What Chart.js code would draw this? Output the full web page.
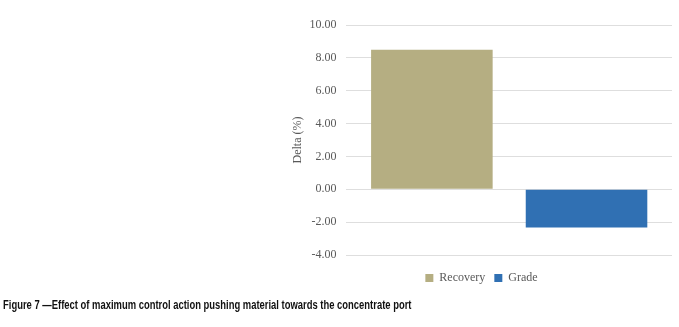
<!DOCTYPE html>
<html>
<head>
<meta charset="utf-8">
<script src="https://cdn.jsdelivr.net/npm/chart.js@4"></script>
<style>
  body { margin: 0; background: #fff; width: 679px; height: 327px; position: relative; overflow: hidden; }
  #wrap { position: absolute; left: 291px; top: 0; width: 387px; height: 300px; }
  #caption { position: absolute; left: 3px; top: 297px; font-family: "Liberation Sans", Arial, sans-serif;
    font-weight: bold; font-size: 13px; color: #111; transform: scaleX(0.725); transform-origin: left top; white-space: nowrap; }
</style>
</head>
<body>
<div id="wrap"><canvas id="deltaChart"></canvas></div>
<div id="caption">Figure 7 —Effect of maximum control action pushing material towards the concentrate port</div>
<script>
// Данные графика
const categories = [''];
const seriesNames = ['Recovery', 'Grade'];
const recoveryValues = [8.5];
const gradeValues = [-2.32];
const yTicks = [-4, -2, 0, 2, 4, 6, 8, 10];

const ctx = document.getElementById('deltaChart').getContext('2d');

const deltaChart = new Chart(ctx, {
    type: 'bar',
    data: {
        labels: categories,
        datasets: [
            {
                label: seriesNames[0],
                data: recoveryValues,
                backgroundColor: '#b5ae82',
                categoryPercentage: 0.95,
                barPercentage: 0.786
            },
            {
                label: seriesNames[1],
                data: gradeValues,
                backgroundColor: '#3070b3',
                categoryPercentage: 0.95,
                barPercentage: 0.786
            }
        ]
    },
    options: {
        responsive: true,
        maintainAspectRatio: false,
        animation: false,
        layout: { padding: { top: 25, right: 6, left: 0, bottom: 6 } },
        plugins: {
            legend: {
                position: 'bottom',
                labels: {
                    boxWidth: 8,
                    boxHeight: 8,
                    padding: 9,
                    color: '#595959',
                    font: { family: 'Liberation Serif', size: 12 }
                }
            },
            tooltip: { enabled: false }
        },
        scales: {
            x: {
                grid: { display: false },
                border: { display: false },
                ticks: { display: false }
            },
            y: {
                min: yTicks[0],
                max: yTicks[yTicks.length - 1],
                afterBuildTicks: (axis) => { axis.ticks = yTicks.map(v => ({ value: v })); },
                grid: { color: '#dedede', drawTicks: false },
                border: { display: false },
                ticks: {
                    padding: 10,
                    color: '#595959',
                    font: { family: 'Liberation Serif', size: 12 },
                    callback: (v) => v.toFixed(2)
                },
                title: {
                    display: true,
                    text: 'Delta (%)',
                    color: '#595959',
                    padding: { top: 0, bottom: -6 },
                    font: { family: 'Liberation Serif', size: 12 }
                }
            }
        }
    }
});
</script>
</body>
</html>
